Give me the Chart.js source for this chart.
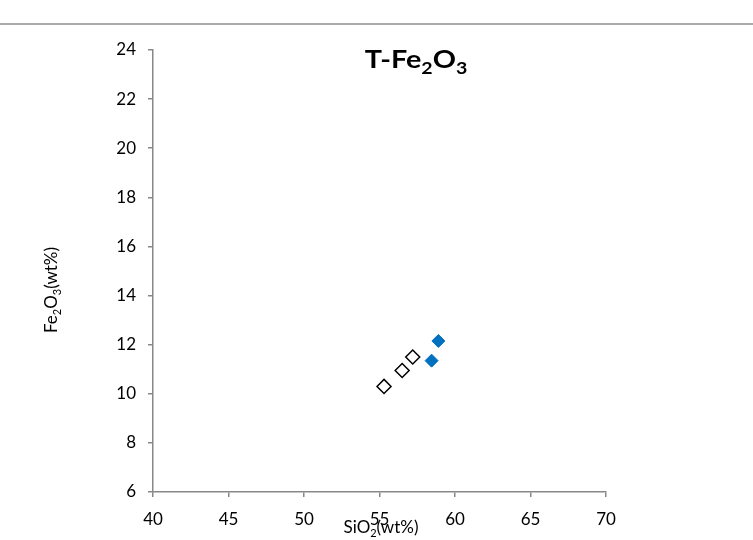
<!DOCTYPE html>
<html>
<head>
<meta charset="utf-8">
<script src="https://cdn.jsdelivr.net/npm/chart.js@4/dist/chart.umd.min.js"></script>
<style>
  html, body { margin: 0; padding: 0; background: #fff; }
  #wrap { width: 753px; height: 540px; position: relative; }
</style>
</head>
<body>
<div id="wrap"><canvas id="c" width="753" height="540"></canvas></div>
<script>
// SiO2 vs Fe2O3 — two groups of samples
const OPEN_SIO2 = [55.3, 56.5, 57.2];
const OPEN_FE2O3 = [10.3, 10.95, 11.5];
const BLUE_SIO2 = [58.45, 58.9];
const BLUE_FE2O3 = [11.35, 12.15];
const X_TICKS = [40, 45, 50, 55, 60, 65, 70];
const Y_TICKS = [6, 8, 10, 12, 14, 16, 18, 20, 22, 24];

const FONT = 'Lato, "Open Sans", sans-serif';
const AXIS = '#888';

const pts = (xs, ys) => xs.map((x, i) => ({ x, y: ys[i] }));

// text with subscripts: parts = [[text, isSub], ...]; sx stretches horizontally
function drawSub(ctx, parts, x, y, size, weight, sx = 1) {
  const big = `${weight} ${size}px ${FONT}`;
  const small = `${weight} ${Math.round(size * 0.66)}px ${FONT}`;
  const widths = parts.map(([t, sub]) => { ctx.font = sub ? small : big; return ctx.measureText(t).width; });
  const total = widths.reduce((a, b) => a + b, 0);
  ctx.save();
  ctx.translate(x, y);
  ctx.scale(sx, 1);
  let cx = -total / 2;
  ctx.textBaseline = 'alphabetic';
  ctx.textAlign = 'left';
  parts.forEach(([t, sub], i) => {
    ctx.font = sub ? small : big;
    ctx.fillText(t, cx, sub ? size * 0.25 : 0);
    cx += widths[i];
  });
  ctx.restore();
}

const labels = {
  id: 'labels',
  afterDraw(chart) {
    const ctx = chart.ctx;
    ctx.save();
    // rule across the top of the page
    ctx.strokeStyle = '#aaa';
    ctx.lineWidth = 2;
    ctx.beginPath(); ctx.moveTo(0, 24); ctx.lineTo(753, 24); ctx.stroke();
    ctx.fillStyle = '#000';
    drawSub(ctx, [['T-Fe', false], ['2', true], ['O', false], ['3', true]], 416, 68, 25, 'bold', 1.15);
    drawSub(ctx, [['SiO', false], ['2', true], ['(wt%)', false]], 381, 533, 17, 'normal');
    ctx.translate(57, 290);
    ctx.rotate(-Math.PI / 2);
    drawSub(ctx, [['Fe', false], ['2', true], ['O', false], ['3', true], ['(wt%)', false]], 0, 0, 17, 'normal');
    ctx.restore();
  }
};

const axisGrid = { display: true, drawOnChartArea: false, drawTicks: true, tickLength: 5, color: AXIS, lineWidth: 1.5 };

new Chart(document.getElementById('c'), {
  type: 'scatter',
  data: {
    datasets: [
      { data: pts(OPEN_SIO2, OPEN_FE2O3), pointStyle: 'rectRot', radius: 7, backgroundColor: '#fff', borderColor: '#000', borderWidth: 1.5 },
      { data: pts(BLUE_SIO2, BLUE_FE2O3), pointStyle: 'rectRot', radius: 6.5, backgroundColor: '#0070C0', borderColor: '#0070C0', borderWidth: 1 },
    ],
  },
  options: {
    responsive: false,
    animation: false,
    layout: { padding: { top: 50, right: 147, left: 0, bottom: 0 } },
    plugins: { legend: { display: false }, tooltip: { enabled: false } },
    scales: {
      x: {
        type: 'linear', min: 40, max: 70,
        afterBuildTicks: (s) => { s.ticks = X_TICKS.map((v) => ({ value: v })); },
        afterFit: (s) => { s.height = 48; },
        grid: axisGrid,
        border: { color: AXIS, width: 1.5 },
        ticks: { color: '#000', font: { family: FONT, size: 17 }, padding: 12, maxRotation: 0 },
      },
      y: {
        type: 'linear', min: 6, max: 24,
        afterBuildTicks: (s) => { s.ticks = Y_TICKS.map((v) => ({ value: v })); },
        afterFit: (s) => { s.width = 153; },
        grid: axisGrid,
        border: { color: AXIS, width: 1.5 },
        ticks: { color: '#000', font: { family: FONT, size: 17 }, padding: 12 },
      },
    },
  },
  plugins: [labels],
});
</script>
</body>
</html>
